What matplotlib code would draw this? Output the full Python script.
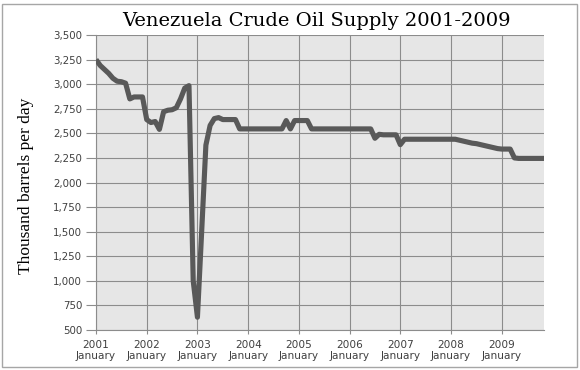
import matplotlib.pyplot as plt
import matplotlib.patches as patches
from matplotlib.ticker import FuncFormatter

# monthly crude oil supply, Jan 2001 .. Nov 2009 (thousand barrels per day)
supply = [
    3250, 3190, 3150, 3110, 3060, 3030, 3025, 3010, 2850, 2870, 2870, 2870,  # 2001
    2640, 2610, 2620, 2540, 2720, 2735, 2740, 2760, 2850, 2960, 2985, 1000,  # 2002
    630, 1500, 2380, 2580, 2650, 2660, 2640, 2640, 2640, 2640, 2545, 2545,  # 2003
    2545, 2545, 2545, 2545, 2545, 2545, 2545, 2545, 2545, 2630, 2545, 2630,  # 2004
    2630, 2630, 2630, 2545, 2545, 2545, 2545, 2545, 2545, 2545, 2545, 2545,  # 2005
    2545, 2545, 2545, 2545, 2545, 2545, 2450, 2490, 2485, 2485, 2485, 2485,  # 2006
    2385, 2440, 2440, 2440, 2440, 2440, 2440, 2440, 2440, 2440, 2440, 2440,  # 2007
    2440, 2440, 2430, 2420, 2410, 2400, 2395, 2385, 2375, 2365, 2355, 2345,  # 2008
    2340, 2340, 2340, 2250, 2245, 2245, 2245, 2245, 2245, 2245, 2245,        # 2009
]
months = list(range(len(supply)))
years = [2001, 2002, 2003, 2004, 2005, 2006, 2007, 2008, 2009]
year_pos = [12 * (y - 2001) for y in years]
year_labels = [f"{y}\nJanuary" for y in years]
y_ticks = list(range(500, 3501, 250))

fig = plt.figure(figsize=(5.8, 3.7), dpi=100)
fig.patch.set_facecolor("white")

# outer chart frame
frame = patches.Rectangle((2 / 580, 3 / 370), 575 / 580, 363 / 370,
                          transform=fig.transFigure, fill=False,
                          edgecolor="#a6a6a6", linewidth=1.0)
fig.patches.append(frame)

ax = fig.add_axes([96 / 580, 40 / 370, 448 / 580, 295 / 370])
ax.set_facecolor("#e6e6e6")

ax.plot(months, supply, color="#595959", linewidth=3.7,
        solid_joinstyle="round", solid_capstyle="butt", zorder=3)

ax.set_xlim(0, 106)
ax.set_ylim(500, 3500)
ax.set_xticks(year_pos)
ax.set_xticklabels(year_labels, fontsize=7.6, color="#404040",
                   family="DejaVu Sans", linespacing=1.2)
ax.set_yticks(y_ticks)
ax.yaxis.set_major_formatter(FuncFormatter(lambda v, p: f"{int(v):,}"))
for lab in ax.get_yticklabels():
    lab.set_fontsize(7.4)
    lab.set_color("#404040")

ax.grid(True, color="#8c8c8c", linewidth=0.8, zorder=1)
ax.set_axisbelow(True)
for side in ["top", "right"]:
    ax.spines[side].set_visible(False)
for side in ["left", "bottom"]:
    ax.spines[side].set_color("#8c8c8c")
    ax.spines[side].set_linewidth(0.8)
ax.tick_params(axis="y", length=7, width=0.8, color="#8c8c8c", pad=3)
ax.tick_params(axis="x", length=3, width=0.8, color="#8c8c8c", pad=4)

ax.set_ylabel("Thousand barrels per day", family="Liberation Serif",
              fontsize=12.5, color="black")
ax.yaxis.set_label_coords(-0.138, 0.49)

fig.text(0.546, 1 - 21 / 370, "Venezuela Crude Oil Supply 2001-2009",
         family="DejaVu Serif", fontsize=14, ha="center", va="center",
         color="black")

fig.savefig("out.png", dpi=100)
